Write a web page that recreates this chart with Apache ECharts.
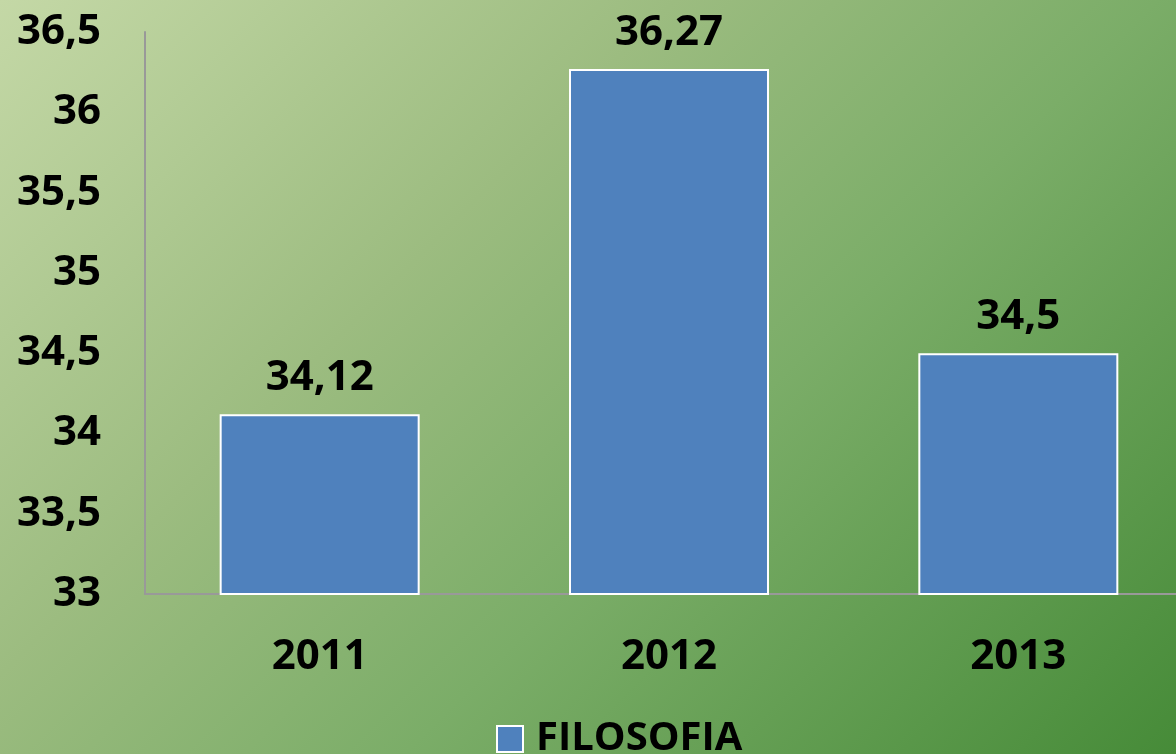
<!DOCTYPE html>
<html>
<head>
<meta charset="utf-8">
<script src="https://cdn.jsdelivr.net/npm/echarts@6/dist/echarts.min.js"></script>
<style>
  html, body { margin: 0; padding: 0; overflow: hidden; }
  #chart { width: 1193px; height: 754px; }
</style>
</head>
<body>
<div id="chart"></div>
<script>
var categories = ['2011', '2012', '2013'];
var values = [34.12, 36.27, 34.5];
var seriesName = 'FILOSOFIA';

function comma(v) {
    return String(v).replace('.', ',');
}

var font = '"Open Sans", "Noto Sans", sans-serif';
var chart = echarts.init(document.getElementById('chart'));
chart.setOption({
    // 45 degree gradient, light top-left to dark bottom-right
    backgroundColor: {
        type: 'linear', x: 0, y: 0, x2: 965, y2: 965, global: true,
        colorStops: [
            { offset: 0, color: '#c4d8a6' },
            { offset: 0.35, color: '#9cbc80' },
            { offset: 0.6, color: '#7bad68' },
            { offset: 1, color: '#468b38' }
        ]
    },
    // plot runs a little past the right edge of the window, like the original
    grid: { left: 145, right: 0, top: 32, bottom: 160 },
    legend: {
        bottom: -10,
        left: 491,
        icon: 'rect',
        itemWidth: 26,
        itemHeight: 26,
        itemStyle: { borderColor: '#ffffff', borderWidth: 2 },
        textStyle: {
            fontSize: 40, fontWeight: 'bold', color: '#000', fontFamily: font,
            padding: [0, 0, 0, 8]
        },
        data: [seriesName]
    },
    xAxis: {
        type: 'category',
        data: categories,
        axisLine: { lineStyle: { color: '#999999', width: 2 } },
        axisTick: { show: false },
        axisLabel: { margin: 42, fontSize: 42, fontWeight: 'bold', color: '#000', fontFamily: font }
    },
    yAxis: {
        type: 'value',
        min: 33,
        max: 36.5,
        interval: 0.5,
        axisLine: { show: true, lineStyle: { color: '#999999', width: 2 } },
        axisTick: { show: false },
        splitLine: { show: false },
        axisLabel: {
            margin: 44,
            fontSize: 42, fontWeight: 'bold', color: '#000', fontFamily: font,
            formatter: function (v) { return comma(v); }
        }
    },
    series: [{
        name: seriesName,
        type: 'bar',
        data: values,
        barWidth: 200,
        itemStyle: { color: '#4f81bd', borderColor: '#ffffff', borderWidth: 2 },
        label: {
            show: true,
            position: 'top',
            distance: 15,
            fontSize: 42, fontWeight: 'bold', color: '#000', fontFamily: font,
            formatter: function (p) { return comma(p.value); }
        }
    }]
});
</script>
</body>
</html>
